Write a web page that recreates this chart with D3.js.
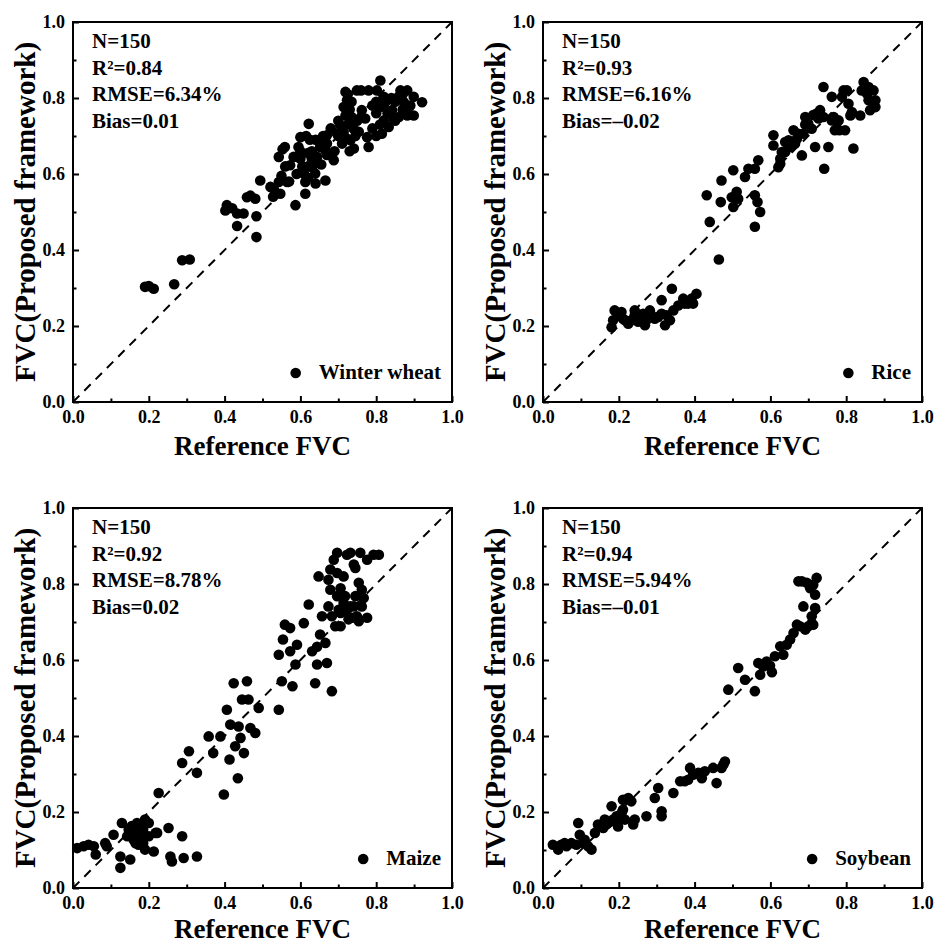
<!DOCTYPE html>
<html>
<head>
<meta charset="utf-8">
<script src="https://cdn.jsdelivr.net/npm/d3@7"></script>
<style>
  body { margin: 0; background: #fff; }
  svg text { font-family: "Liberation Serif", "Times New Roman", serif; font-weight: bold; fill: #000; }
</style>
</head>
<body>
<svg id="chart" width="935" height="945"></svg>
<script>
// crops in panel order (row by row)
const crops = ["Winter wheat", "Rice", "Maize", "Soybean"];
const statN = ["150", "150", "150", "150"];
const statR2 = ["0.84", "0.93", "0.92", "0.94"];
const statRMSE = ["6.34%", "6.16%", "8.78%", "5.94%"];
const statBias = ["0.01", "\u20130.02", "0.02", "\u20130.01"];
const majorTicks = [0, 0.2, 0.4, 0.6, 0.8, 1.0];
const minorTicks = [0.1, 0.3, 0.5, 0.7, 0.9];

// [reference FVC, proposed framework FVC]
const wheatPoints = [
  [.19,.303],[.20,.305],[.213,.298],[.267,.31],[.288,.373],[.308,.375],
  [.402,.504],[.406,.518],[.42,.51],[.433,.496],[.45,.496],[.433,.463],
  [.459,.539],[.468,.543],[.481,.535],[.484,.489],[.484,.434],[.494,.583],
  [.521,.566],[.528,.54],[.547,.548],[.543,.579],[.565,.579],[.559,.671],[.543,.645],[.553,.665],
  [.587,.518],[.573,.623],[.582,.645],[.595,.671],[.6,.697],[.613,.548],[.613,.579],[.605,.62],[.61,.6],[.59,.6],
  [.622,.732],[.631,.618],[.639,.601],[.644,.645],[.652,.671],[.666,.583],[.666,.662],[.670,.702],[.688,.636],
  [.697,.706],[.705,.728],[.625,.69],[.64,.575],[.655,.625],[.62,.655],[.63,.66],[.6,.64],[.615,.7],[.62,.59],
  [.719,.816],[.723,.794],[.714,.776],[.719,.754],[.727,.732],[.714,.711],[.732,.689],[.741,.667],[.754,.711],
  [.749,.82],[.762,.768],[.771,.746],[.776,.697],[.78,.671],[.725,.81],[.73,.77],[.735,.75],[.72,.695],[.71,.68],
  [.74,.72],[.745,.7],[.73,.66],[.75,.74],[.76,.75],[.735,.79],[.70,.74],[.76,.82],
  [.811,.846],[.802,.82],[.82,.803],[.811,.776],[.82,.741],[.815,.706],[.833,.724],[.842,.768],[.864,.82],
  [.873,.789],[.882,.754],[.859,.803],[.882,.82],[.899,.803],[.921,.789],[.886,.758],[.899,.754],[.846,.746],
  [.829,.794],[.79,.78],[.80,.76],[.79,.72],[.8,.70],[.81,.73],[.85,.79],[.87,.77],[.86,.75],[.83,.76],[.84,.80],
  [.78,.82],[.80,.79],[.85,.74],[.89,.78],[.87,.81],[.82,.78],
  [.66,.70],[.68,.72],[.67,.68],[.69,.66],[.70,.70],[.65,.69],[.64,.63],[.56,.62],[.57,.58],[.55,.595],[.53,.56],
  [.60,.66],[.62,.62],[.63,.64],[.64,.69],[.67,.65]
];
const ricePoints = [
  [.181,.197],[.185,.215],[.189,.241],[.198,.228],[.211,.219],[.225,.206],[.233,.215],[.242,.228],[.251,.211],
  [.269,.202],[.264,.232],[.282,.241],[.295,.219],[.313,.268],[.313,.232],[.322,.202],[.326,.228],[.340,.298],
  [.344,.241],[.357,.254],[.370,.272],[.383,.259],[.392,.272],[.405,.285],[.396,.259],[.374,.259],[.335,.215],
  [.304,.224],[.286,.228],[.26,.215],[.207,.237],[.216,.215],[.242,.241],[.273,.215],
  [.432,.544],[.44,.474],[.464,.375],[.471,.583],[.469,.526],[.502,.61],[.498,.539],[.511,.553],[.502,.513],
  [.515,.535],[.533,.592],[.542,.614],[.559,.614],[.559,.544],[.566,.526],[.573,.5],[.559,.461],[.568,.636],
  [.608,.702],[.608,.675],[.621,.618],[.626,.627],[.63,.658],[.639,.684],[.652,.671],[.661,.715],[.67,.693],
  [.683,.649],[.687,.706],[.692,.75],[.709,.719],[.718,.671],[.722,.759],[.731,.768],[.74,.829],[.742,.614],
  [.753,.671],[.762,.803],[.767,.75],[.775,.719],[.789,.803],[.793,.82],[.802,.82],[.797,.715],[.806,.785],
  [.811,.754],[.819,.667],[.815,.763],[.837,.754],[.841,.82],[.846,.842],[.859,.829],[.859,.794],[.863,.768],
  [.872,.82],[.877,.776],[.877,.794],[.855,.811],[.78,.741],[.77,.715],[.782,.715],[.762,.741],[.74,.75],
  [.727,.746],[.7,.732],[.674,.706],[.665,.68],[.648,.689],[.639,.658],[.626,.64],[.713,.755],[.692,.73]
];
const maizePoints = [
  [.011,.105],[.028,.11],[.041,.114],[.055,.11],[.06,.088],[.085,.118],[.089,.11],[.107,.14],[.125,.053],
  [.125,.083],[.129,.171],[.151,.075],[.156,.145],[.165,.118],[.169,.171],[.176,.136],[.185,.154],[.19,.18],
  [.2,.171],[.19,.101],[.213,.096],[.218,.145],[.252,.158],[.257,.083],[.261,.07],[.288,.136],[.292,.079],
  [.327,.083],[.2,.136],[.16,.127],[.173,.114],[.185,.118],[.147,.154],[.155,.163],[.176,.158],[.143,.136],[.222,.145],
  [.226,.25],[.288,.329],[.306,.36],[.327,.303],[.358,.399],[.37,.355],[.389,.399],[.398,.246],[.406,.469],
  [.413,.338],[.424,.539],[.415,.43],[.428,.373],[.435,.289],[.442,.395],[.446,.496],[.451,.355],[.459,.544],
  [.463,.496],[.468,.421],[.481,.408],[.49,.474],[.437,.425],
  [.543,.469],[.543,.614],[.551,.544],[.554,.654],[.559,.693],[.573,.684],[.573,.623],[.579,.531],[.587,.588],
  [.591,.64],[.609,.697],[.622,.746],[.631,.623],[.639,.539],[.644,.588],[.644,.635],[.648,.82],[.652,.667],
  [.657,.715],[.666,.645],[.67,.592],[.679,.838],[.683,.518],[.679,.785],[.674,.741],[.688,.864],[.697,.882],
  [.701,.732],[.706,.689],[.706,.789],[.714,.82],[.718,.768],[.723,.877],[.732,.882],[.732,.741],[.736,.711],
  [.741,.851],[.745,.768],[.749,.715],[.754,.803],[.758,.882],[.762,.741],[.767,.763],[.776,.711],[.776,.864],
  [.793,.877],[.807,.877],[.727,.707],[.714,.75],[.697,.768],[.683,.715],[.692,.689],[.741,.741],[.754,.702],
  [.745,.842],[.762,.785],[.723,.732],[.706,.724],[.697,.829],[.674,.811]
];
const soybeanPoints = [
  [.026,.114],[.04,.101],[.048,.114],[.062,.11],[.075,.118],[.088,.114],[.093,.171],[.097,.14],[.106,.118],
  [.119,.11],[.128,.101],[.137,.145],[.145,.167],[.159,.158],[.167,.167],[.181,.215],[.185,.18],[.194,.189],
  [.198,.162],[.207,.197],[.216,.18],[.211,.232],[.225,.237],[.233,.228],[.238,.167],[.242,.18],[.273,.189],
  [.295,.237],[.304,.263],[.313,.202],[.313,.189],[.344,.25],[.362,.281],[.374,.281],[.388,.316],[.396,.298],
  [.41,.303],[.419,.289],[.449,.316],[.458,.276],[.471,.316],[.48,.333],[.476,.325],[.163,.18],[.172,.171],
  [.19,.175],[.11,.127],[.057,.118],[.211,.206],[.383,.285],[.427,.307],
  [.489,.522],[.515,.579],[.533,.548],[.559,.518],[.568,.592],[.573,.561],[.581,.583],[.59,.596],[.599,.585],
  [.604,.568],[.612,.61],[.626,.636],[.634,.614],[.643,.64],[.652,.654],[.661,.671],[.67,.693],[.674,.807],
  [.683,.807],[.687,.741],[.696,.803],[.7,.689],[.709,.715],[.709,.697],[.713,.798],[.718,.737],[.722,.816],
  [.718,.772],[.713,.693],[.705,.789],[.692,.68],[.678,.689]
];
const allPoints = [wheatPoints, ricePoints, maizePoints, soybeanPoints];

const panelW = 379, panelH = 380;
const panelLeft = [73, 543, 73, 543];
const panelTop = [22, 22, 508, 508];
const titleGap = [53, 53, 50, 50];

const svg = d3.select("#chart");

crops.forEach((crop, i) => {
  const g = svg.append("g")
    .attr("transform", `translate(${panelLeft[i]},${panelTop[i]})`);

  const x = d3.scaleLinear().domain([0, 1]).range([0, panelW]);
  const y = d3.scaleLinear().domain([0, 1]).range([panelH, 0]);

  // 1:1 line
  g.append("line")
    .attr("x1", x(0)).attr("y1", y(0))
    .attr("x2", x(1)).attr("y2", y(1))
    .attr("stroke", "#000")
    .attr("stroke-width", 2)
    .attr("stroke-dasharray", "9,7");

  g.selectAll("circle.pt")
    .data(allPoints[i])
    .enter()
    .append("circle")
    .attr("class", "pt")
    .attr("cx", d => x(d[0]))
    .attr("cy", d => y(d[1]))
    .attr("r", 5.3)
    .attr("fill", "#000");

  // axes, ticks pointing inward
  const xAxis = g.append("g").attr("transform", `translate(0,${panelH})`)
    .call(d3.axisBottom(x).tickValues(majorTicks).tickSize(-6).tickPadding(8).tickFormat(d3.format(".1f")));
  g.append("g").attr("transform", `translate(0,${panelH})`)
    .call(d3.axisBottom(x).tickValues(minorTicks).tickSize(-3.5).tickFormat(""));
  g.append("g")
    .call(d3.axisLeft(y).tickValues(majorTicks).tickSize(-6).tickPadding(8).tickFormat(d3.format(".1f")));
  g.append("g")
    .call(d3.axisLeft(y).tickValues(minorTicks).tickSize(-3.5).tickFormat(""));

  g.selectAll(".domain").remove();
  g.selectAll(".tick line").attr("stroke", "#000").attr("stroke-width", 2);
  g.selectAll(".tick text").style("font-size", "18px");
  xAxis.selectAll(".tick text").attr("dy", "0.71em");

  g.append("rect")
    .attr("width", panelW).attr("height", panelH)
    .attr("fill", "none")
    .attr("stroke", "#000")
    .attr("stroke-width", 2);

  // statistics block
  const stats = ["N=" + statN[i], "R\u00b2=" + statR2[i], "RMSE=" + statRMSE[i], "Bias=" + statBias[i]];
  g.selectAll("text.stat")
    .data(stats)
    .enter()
    .append("text")
    .attr("class", "stat")
    .attr("x", 19)
    .attr("y", (d, k) => 26 + k * 26.5)
    .style("font-size", "21px")
    .text(d => d);

  // legend
  const leg = g.append("text")
    .attr("x", panelW - 11)
    .attr("y", panelH - 23)
    .attr("text-anchor", "end")
    .style("font-size", "21px")
    .text(crop);
  const legW = leg.node().getComputedTextLength();
  g.append("circle")
    .attr("cx", panelW - 11 - legW - 23)
    .attr("cy", panelH - 29)
    .attr("r", 5.3)
    .attr("fill", "#000");

  // axis titles
  g.append("text")
    .attr("x", panelW / 2)
    .attr("y", panelH + titleGap[i])
    .attr("text-anchor", "middle")
    .style("font-size", "27px")
    .text("Reference FVC");

  g.append("text")
    .attr("transform", `translate(-38,${panelH / 2}) rotate(-90)`)
    .attr("text-anchor", "middle")
    .style("font-size", "29px")
    .text("FVC(Proposed framework)");
});
</script>
</body>
</html>
